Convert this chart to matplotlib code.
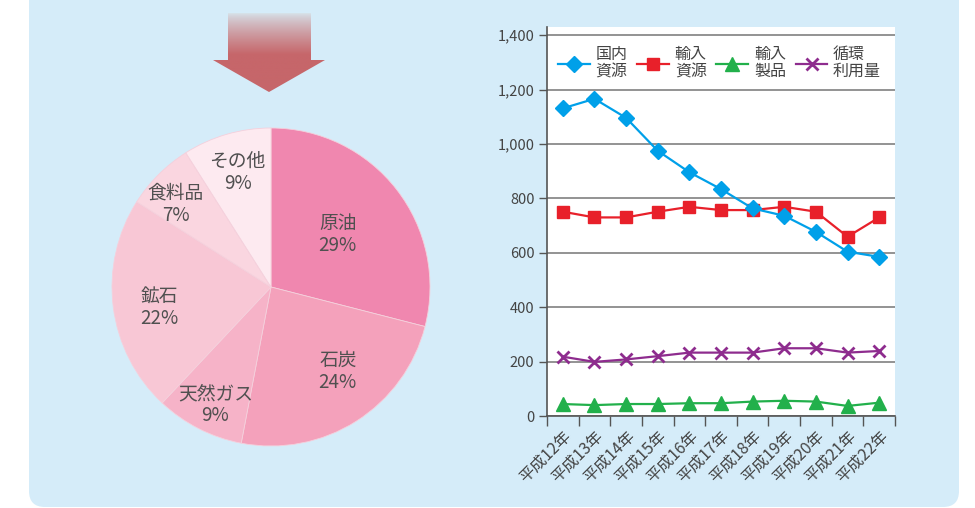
import numpy as np
import matplotlib
matplotlib.use('Agg')
import matplotlib.pyplot as plt
from matplotlib.patches import FancyBboxPatch, Polygon
from matplotlib.ticker import FuncFormatter

plt.rcParams['font.family'] = ['Noto Sans CJK JP', 'DejaVu Sans']

# pie data
pie_labels = ['原油', '石炭', '天然ガス', '鉱石', '食料品', 'その他']
pie_values = [29, 24, 9, 22, 7, 9]
pie_colors = ['#F087AF', '#F4A1BB', '#F6B3C8', '#F8C7D5', '#FAD6E0', '#FDEAF0']
# label positions inside the pie (radius units)
pie_label_pos = [(0.42, 0.33), (0.42, -0.53), (-0.35, -0.74), (-0.70, -0.13), (-0.60, 0.52), (-0.21, 0.72)]

# line chart data
years = ['平成12年', '平成13年', '平成14年', '平成15年', '平成16年', '平成17年',
         '平成18年', '平成19年', '平成20年', '平成21年', '平成22年']
domestic = [1131, 1166, 1096, 975, 896, 834, 763, 736, 677, 604, 585]
imported = [751, 730, 730, 751, 769, 757, 757, 769, 751, 659, 730]
products = [44, 40, 44, 44, 47, 47, 53, 56, 53, 37, 49]
recycled = [218, 199, 208, 220, 233, 233, 233, 249, 249, 233, 239]
series_names = ['国内\n資源', '輸入\n資源', '輸入\n製品', '循環\n利用量']

fig = plt.figure(figsize=(9.75, 5.08), dpi=100)

# background panel + arrow, drawn in pixel coordinates
bg = fig.add_axes([0, 0, 1, 1], zorder=-1)
bg.set_xlim(0, 975)
bg.set_ylim(508, 0)
bg.axis('off')
bg.add_patch(FancyBboxPatch((29, -40), 930, 547, boxstyle='round,pad=0,rounding_size=16',
                            facecolor='#D5ECF9', edgecolor='none', zorder=1))

arrow = Polygon([(228, 13), (311, 13), (311, 60), (325, 60), (269, 92), (213, 60), (228, 60)],
                closed=True, facecolor='none', edgecolor='none', zorder=2)
bg.add_patch(arrow)
grad = np.zeros((100, 2, 4))
base = np.array(matplotlib.colors.to_rgb('#C6666A'))
top = np.array(matplotlib.colors.to_rgb('#D6E2EA'))
for i in range(100):
    t = min(1.0, i / 52.0) ** 0.8
    grad[i, :, :3] = top * (1 - t) + base * t
    grad[i, :, 3] = 1.0
im = bg.imshow(grad, extent=(213, 325, 92, 13), aspect='auto', zorder=3)
im.set_clip_path(arrow)
bg.set_xlim(0, 975)
bg.set_ylim(508, 0)

# pie chart
pax = fig.add_axes([(271 - 175) / 975, (508 - 287 - 175) / 508, 350 / 975, 350 / 508])
pax.pie(pie_values, colors=pie_colors, startangle=90, counterclock=False, radius=1,
        wedgeprops=dict(edgecolor='#F5D0DC', linewidth=0.6))
for lab, val, (x, y) in zip(pie_labels, pie_values, pie_label_pos):
    pax.text(x, y, f'{lab}\n{val}%', ha='center', va='center', fontsize=13.5,
             color='#505050', linespacing=1.05)
pax.set_xlim(-175 / 159, 175 / 159)
pax.set_ylim(-175 / 159, 175 / 159)
pax.set_aspect('equal')
pax.axis('off')

# line chart
ax = fig.add_axes([547 / 975, 1 - 416 / 508, 348 / 975, 389 / 508])
ax.set_facecolor('white')
x = np.arange(len(years))
ax.plot(x, domestic, color='#00A0E9', marker='D', markersize=8, linewidth=1.6, label=series_names[0], zorder=5)
ax.plot(x, imported, color='#E8202A', marker='s', markersize=8.5, linewidth=1.6, label=series_names[1], zorder=4)
ax.plot(x, products, color='#22B04B', marker='^', markersize=10, linewidth=1.6, label=series_names[2], zorder=4)
ax.plot(x, recycled, color='#8E2C8E', marker='x', markersize=8, markeredgewidth=2, linewidth=1.6, label=series_names[3], zorder=4)

ax.set_xlim(-0.5, len(years) - 0.5)
ax.set_ylim(0, 1430)
ax.set_yticks(range(0, 1401, 200))
ax.yaxis.set_major_formatter(FuncFormatter(lambda v, p: f'{int(v):,}'))
ax.grid(axis='y', color='#8A8A8A', linewidth=1.3)
ax.set_axisbelow(True)
for s in ['top', 'right']:
    ax.spines[s].set_visible(False)
for s in ['left', 'bottom']:
    ax.spines[s].set_color('#555555')
    ax.spines[s].set_linewidth(1.2)
ax.tick_params(axis='y', length=6, width=1, color='#555555', labelcolor='#444444', labelsize=10.5, pad=3)
ax.set_xticks(x)
ax.set_xticklabels(years, rotation=45, ha='right', rotation_mode='anchor', fontsize=11.5, color='#444444')
ax.tick_params(axis='x', length=0, pad=8)
ax.set_xticks(np.arange(-0.5, len(years), 1), minor=True)
ax.tick_params(axis='x', which='minor', length=7, width=1, color='#555555')

leg = ax.legend(loc='center left', bbox_to_anchor=(0.0, 0.907), ncol=4, frameon=False,
                fontsize=11.5, handlelength=2.0, handletextpad=0.35, columnspacing=0.6,
                labelspacing=0.2, borderaxespad=0.3)
for t in leg.get_texts():
    t.set_color('#444444')
    t.set_linespacing(1.0)

fig.savefig('out.png', dpi=100)
